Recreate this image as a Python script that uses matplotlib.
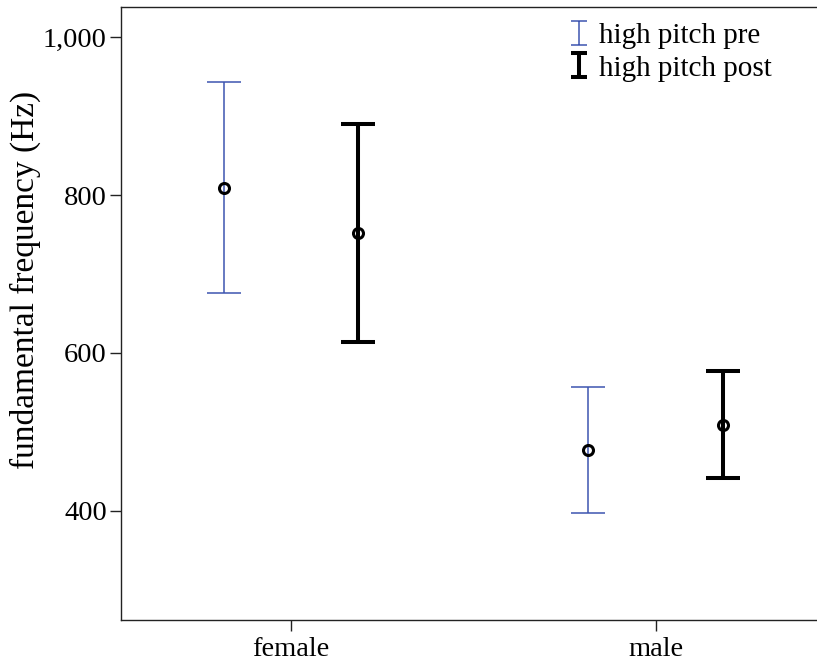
import matplotlib
matplotlib.use("Agg")
import matplotlib.pyplot as plt
import numpy as np
from matplotlib.lines import Line2D
from matplotlib.path import Path
from matplotlib.ticker import StrMethodFormatter

# values (Hz)
groups = ['female', 'male']
pre_mean = [809, 477]
pre_low = [676, 397]
pre_high = [943, 557]
post_mean = [752, 509]
post_low = [614, 441]
post_high = [890, 577]

blue = '#3d55b0'
plt.rcParams['font.family'] = ['Liberation Serif', 'DejaVu Serif']

fig = plt.figure(figsize=(8.17, 6.68), dpi=100)
ax = fig.add_axes([0.1477, 0.0719, 0.8633, 0.9181])

x = np.arange(len(groups))
off = 0.185


def draw(xpos, mean, low, high, color, lw):
    mean = np.array(mean)
    err = [mean - np.array(low), np.array(high) - mean]
    ax.errorbar(xpos, mean, yerr=err, fmt='none', ecolor=color,
                elinewidth=lw, capsize=12, capthick=lw, zorder=2)
    ax.plot(xpos, mean, linestyle='none', marker='o', markersize=7.2,
            markerfacecolor='none', markeredgecolor='black',
            markeredgewidth=2.2, zorder=3)


draw(x - off, pre_mean, pre_low, pre_high, blue, 1.1)
draw(x + off, post_mean, post_low, post_high, 'black', 2.9)

ax.set_xlim(-0.467, 1.467)
ax.set_ylim(261.5, 1039)
ax.set_xticks(x)
ax.set_xticklabels(groups)
ax.set_yticks([400, 600, 800, 1000])
ax.yaxis.set_major_formatter(StrMethodFormatter('{x:,.0f}'))
ax.tick_params(axis='both', labelsize=20.5, width=1.0, length=8, pad=2,
               color='#222222')
ax.tick_params(axis='x', pad=4)
for s in ax.spines.values():
    s.set_linewidth(1.0)
    s.set_color('#222222')
ax.spines['right'].set_visible(False)

ax.set_ylabel('fundamental frequency (Hz)', fontsize=24)
ax.yaxis.set_label_coords(-0.113, 0.555)

# I-shaped legend glyphs
ibeam = Path([(-0.32, -0.5), (0.32, -0.5), (0, -0.5), (0, 0.5),
              (-0.32, 0.5), (0.32, 0.5)],
             [Path.MOVETO, Path.LINETO, Path.MOVETO, Path.LINETO,
              Path.MOVETO, Path.LINETO])
handles = [
    Line2D([], [], linestyle='none', marker=ibeam, markersize=17,
           markeredgecolor=blue, markeredgewidth=1.1),
    Line2D([], [], linestyle='none', marker=ibeam, markersize=17,
           markeredgecolor='black', markeredgewidth=2.9),
]
ax.legend(handles, ['high pitch pre', 'high pitch post'], loc='upper left',
          bbox_to_anchor=(0.629, 0.984), frameon=False, fontsize=21,
          handlelength=0.6, handletextpad=0.4, labelspacing=0.22,
          borderpad=0.2, borderaxespad=0.0)

fig.savefig('out.png', dpi=100)
